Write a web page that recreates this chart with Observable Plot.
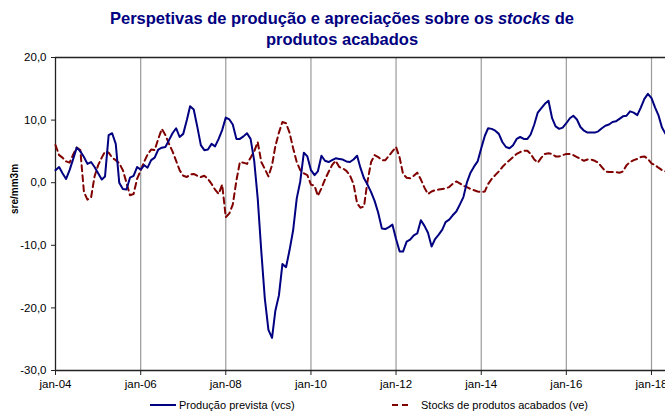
<!DOCTYPE html>
<html>
<head>
<meta charset="utf-8">
<script src="https://cdn.jsdelivr.net/npm/d3@7"></script>
<script src="https://cdn.jsdelivr.net/npm/@observablehq/plot@0.6"></script>
<style>
  html, body { margin: 0; padding: 0; background: #fff; }
  #wrap { position: relative; width: 665px; height: 415px; overflow: hidden; font-family: "Liberation Sans", Arial, sans-serif; }
  #title { position: absolute; left: 0; top: 8px; width: 684px; text-align: center; font-weight: bold; font-size: 16.5px; line-height: 21px; color: #000080; }
  #plot { position: absolute; left: 0; top: 50px; }
  .leg { position: absolute; top: 399px; font-size: 11px; color: #000; display: flex; align-items: center; white-space: nowrap; }
  .leg svg { margin-right: 3px; }
</style>
</head>
<body>
<div id="wrap">
  <div id="title">Perspetivas de produção e apreciações sobre os <i>stocks</i> de<br>produtos acabados</div>
  <div id="plot"></div>
  <div class="leg" style="left:150px"><svg width="26" height="10"><line x1="0" y1="5" x2="26" y2="5" stroke="#000080" stroke-width="2"/></svg><span id="l1"></span></div>
  <div class="leg" style="left:392px"><svg width="26" height="10"><line x1="0" y1="5" x2="20" y2="5" stroke="#800000" stroke-width="2" stroke-dasharray="6,4"/></svg><span id="l2"></span></div>
</div>
<script>
// ---- Data (monthly, starting jan-2004) ----
const startYear = 2004;
const seriesNames = ["Produção prevista (vcs)", "Stocks de produtos acabados (ve)"];
const yAxisLabel = "sre/mm3m";
const yTicks = [-30, -20, -10, 0, 10, 20];
const xTickLabels = ["jan-04", "jan-06", "jan-08", "jan-10", "jan-12", "jan-14", "jan-16", "jan-18"];

const producao = [
  2.0, 2.5, 1.5, 0.6, 2.0, 3.8, 5.6, 5.0, 4.1, 3.0, 3.3, 2.5,
  1.5, 0.5, 1.0, 7.6, 7.9, 6.2, 0.0, -1.0, -1.1, 0.8, 1.1, 2.5,
  2.1, 2.8, 2.4, 3.6, 4.0, 5.3, 5.6, 5.7, 6.8, 7.9, 8.7, 7.3,
  7.8, 10.0, 12.2, 11.7, 9.0, 6.0, 5.2, 5.3, 6.2, 5.8, 7.0, 8.4,
  10.4, 10.1, 9.3, 7.0, 7.0, 7.4, 7.9, 7.0, 3.5, -2.5, -11.0, -18.5,
  -23.5, -24.8, -20.5, -18.0, -13.0, -13.5, -10.8, -7.6, -2.5, 0.2, 4.8, 4.2,
  2.0, 1.2, 1.8, 4.3, 3.5, 3.3, 3.6, 3.9, 3.8, 3.7, 3.4, 3.3,
  3.7, 4.3, 2.4, 0.7, -0.3, -1.5, -2.9, -4.8, -7.3, -7.4, -7.1, -6.7,
  -9.0, -11.0, -11.0, -9.4, -9.1, -8.4, -8.1, -6.0, -6.9, -8.0, -10.2, -9.0,
  -8.3, -7.5, -6.3, -5.9, -5.2, -4.6, -3.5, -2.3, 0.1, 1.6, 2.6, 3.4,
  5.5, 7.5, 8.7, 8.6, 8.3, 7.8, 6.5, 5.7, 5.5, 6.0, 7.0, 7.3,
  7.0, 7.0, 7.7, 9.3, 11.2, 11.9, 12.6, 13.1, 10.3, 9.0, 8.6, 8.8,
  9.5, 10.3, 10.7, 10.1, 8.9, 8.3, 8.0, 8.0, 8.0, 8.2, 8.7, 9.1,
  9.3, 9.7, 9.8, 10.2, 10.6, 10.7, 11.4, 11.2, 10.8, 12.0, 13.4, 14.2,
  13.5, 12.0, 10.8, 8.8, 7.8
];

const stocks = [
  6.0, 4.4, 4.0, 3.4, 3.2, 4.5, 5.6, 5.2, -1.5, -2.7, -2.4, 1.0,
  2.8, 4.0, 5.0, 4.8, 4.0, 3.6, 3.1, 2.0, 0.0, -2.0, -1.8, 0.6,
  2.0, 3.4, 4.5, 5.3, 5.2, 7.0, 8.6, 7.6, 6.2, 5.0, 3.5, 2.0,
  1.1, 0.9, 1.3, 1.4, 1.1, 0.9, 1.1, 0.6, -0.2, -1.1, -1.8, -0.3,
  -5.5, -4.9, -3.5, 0.3, 3.3, 3.2, 3.0, 4.0, 5.0, 6.5, 3.3, 2.2,
  1.0, 2.8, 5.8, 8.0, 9.7, 9.5, 8.0, 5.5, 3.3, 2.0, 1.5, 1.2,
  -0.3, -0.5, -2.1, -0.9, 0.5, 1.7, 2.8, 3.5, 2.5, 2.3, 1.9, 1.2,
  -0.2, -3.3, -4.0, -3.8, 0.2, 3.3, 4.4, 4.1, 3.6, 3.6, 4.3, 5.0,
  5.7, 4.0, 1.4, 0.8, 0.7, 1.1, 1.6, 0.5, -0.8, -1.8, -1.4, -1.2,
  -1.1, -1.0, -0.9, -0.7, -0.2, 0.2, -0.1, -0.5, -0.7, -1.0, -1.2, -1.4,
  -1.5, -1.4, -0.2, 0.6, 1.2, 1.8, 2.5, 3.1, 3.6, 4.1, 4.6, 4.9,
  5.1, 5.1, 4.6, 3.7, 3.2, 4.0, 4.6, 4.7, 4.6, 4.2, 4.2, 4.4,
  4.6, 4.6, 4.4, 4.1, 3.8, 3.5, 3.7, 3.7, 3.5, 3.2, 2.5, 1.8,
  1.7, 1.7, 1.7, 1.6, 1.8, 2.8, 3.3, 3.6, 3.8, 4.1, 4.2, 3.8,
  3.1, 2.8, 2.4, 2.0, 1.8
];

// ---- Build tables ----
const monthDate = i => new Date(Date.UTC(startYear + Math.floor(i / 12), i % 12, 1));
const prodData = producao.map((v, i) => ({date: monthDate(i), value: v}));
const stockData = stocks.map((v, i) => ({date: monthDate(i), value: v}));
const xTicks = xTickLabels.map(s => new Date(Date.UTC(2000 + +s.slice(4), 0, 1)));
const labelOf = new Map(xTicks.map((d, i) => [+d, xTickLabels[i]]));
const xStart = monthDate(0);
const xEnd = monthDate(producao.length - 1);

document.getElementById("l1").textContent = seriesNames[0];
document.getElementById("l2").textContent = seriesNames[1];

const chart = Plot.plot({
  width: 665,
  height: 345,
  marginTop: 7,
  marginBottom: 25,
  marginLeft: 55,
  marginRight: 0,
  style: {fontFamily: "Liberation Sans, Arial, sans-serif", fontSize: "11.5px", color: "#000", background: "#fff", overflow: "visible"},
  x: {type: "utc", domain: [xStart, xEnd]},
  y: {domain: [-30, 20]},
  marks: [
    Plot.ruleX(xTicks.slice(1), {stroke: "#9a9a9a", strokeWidth: 1.2}),
    Plot.ruleY([20], {stroke: "#222", strokeWidth: 1.3}),
    Plot.ruleY([-30], {stroke: "#222", strokeWidth: 1.3}),
    Plot.ruleX([xStart], {stroke: "#222", strokeWidth: 1.3}),
    Plot.axisY({ticks: yTicks, tickFormat: d => d.toFixed(1).replace(".", ","), tickSize: 4, tickPadding: 5, label: null, stroke: "#222"}),
    Plot.axisX({ticks: xTicks, tickFormat: d => labelOf.get(+d), tickSize: 5, tickPadding: 4, label: null, stroke: "#222"}),
    Plot.text([yAxisLabel], {frameAnchor: "left", dx: -41, rotate: -90, fontWeight: "bold", fontSize: 10}),
    Plot.line(stockData, {x: "date", y: "value", stroke: "#800000", strokeWidth: 2, strokeDasharray: "6,4"}),
    Plot.line(prodData, {x: "date", y: "value", stroke: "#000080", strokeWidth: 2})
  ]
});
document.getElementById("plot").appendChild(chart);
</script>
</body>
</html>
